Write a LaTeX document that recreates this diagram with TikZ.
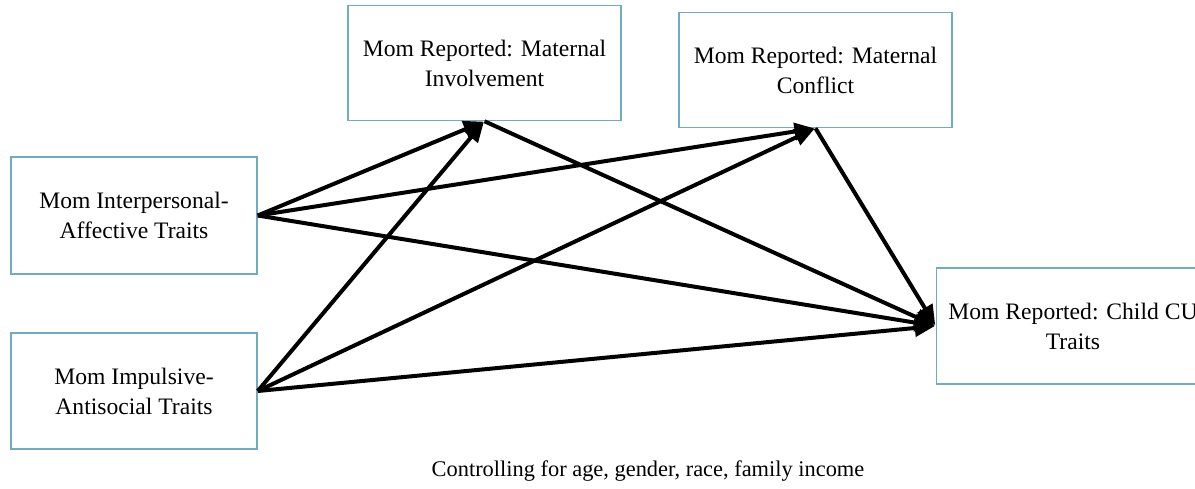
\documentclass[tikz,border=0pt]{standalone}
\usepackage{fontspec}
\setmainfont{Liberation Serif}
\usepackage{xcolor}
\usetikzlibrary{arrows.meta}
\definecolor{BoxTeal}{rgb}{0.43, 0.68, 0.75}

\begin{document}
\begin{tikzpicture}[x=0.5pt,y=0.5pt,yscale=-1,xscale=1,
	varbox/.style={draw=BoxTeal, line width=0.75pt, minimum width=136.5pt, minimum height=57.5pt, align=center, inner sep=0pt, font=\fontsize{11.8}{15}\selectfont},
	path/.style={black, line width=2pt, -{Triangle[length=10pt,width=8.5pt]}, shorten >=0.5pt}]
		% Set diagram size to the reference: 1195 x 488
		\useasboundingbox (0,0) rectangle (1195,488);

		% Traits boxes on the left
		\node[varbox, minimum width=123pt, minimum height=58.5pt] (ip) at (134,215.5) {Mom Interpersonal-\\Affective Traits};
		\node[varbox, minimum width=123pt, minimum height=58pt] (ia) at (134,391) {Mom Impulsive-\\Antisocial Traits};

		% Mediator boxes at the top
		\node[varbox] (inv) at (484.5,63) {Mom Reported: Maternal\\Involvement};
		\node[varbox] (con) at (815.5,70) {Mom Reported: Maternal\\Conflict};

		% Outcome box, cut at the right edge
		\node[varbox, minimum height=58pt] (cu) at (1073,326) {Mom Reported: Child CU\\Traits};

		% Paths from the traits
		\draw[path] (ip.east) -- (inv.south);
		\draw[path] (ip.east) -- (con.south);
		\draw[path] (ip.east) -- (cu.west);
		\draw[path] (ia.east) -- (inv.south);
		\draw[path] (ia.east) -- (con.south);
		\draw[path] (ia.east) -- (cu.west);

		% Paths from the mediators
		\draw[path] (inv.south) -- (cu.west);
		\draw[path] (con.south) -- (cu.west);

		% Covariates note
		\node[font=\fontsize{11.2}{14}\selectfont] (note) at (648,471) {Controlling for age, gender, race, family income};
\end{tikzpicture}
\end{document}
